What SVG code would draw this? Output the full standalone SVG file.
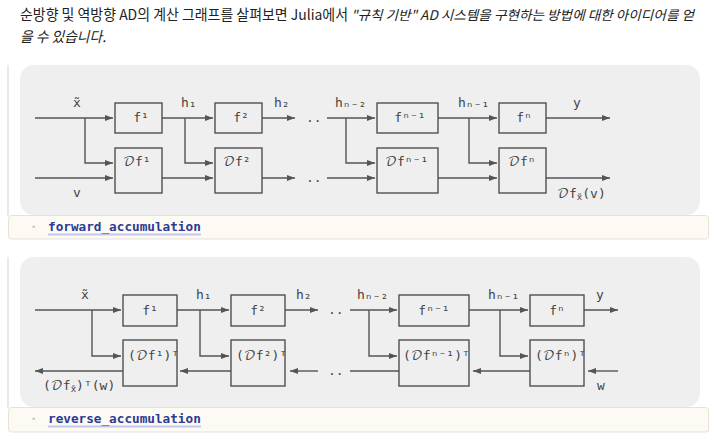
<svg xmlns="http://www.w3.org/2000/svg" width="717" height="440" viewBox="0 0 717 440">
<defs>
<style>
.hdr{font-family:"Noto Sans CJK KR","Noto Sans",sans-serif;font-size:14.4px;fill:#222;}
.it{font-style:italic;}
.sm{font-size:13.2px;}
.panel{fill:#efefef;}
.foot{fill:#fdfaf3;stroke:#e6e2d6;stroke-width:1;}
.cell{stroke:#e2e2e2;stroke-width:1.5;fill:none;}
.lbl{font-family:"DejaVu Sans Mono","DejaVu Math TeX Gyre","DejaVu Sans",monospace;font-size:13px;fill:#444;}
.box{fill:none;stroke:#505050;stroke-width:1.4;}
.ln{fill:none;stroke:#555;stroke-width:1.4;}
.arr{marker-end:url(#ah);}
.fn{font-family:"DejaVu Sans Mono",monospace;font-size:12.7px;font-weight:bold;fill:#2c3a94;}
.ul{stroke:#c3c7ee;stroke-width:2.2;}
.bul{font-family:"DejaVu Sans",sans-serif;font-size:9px;fill:#c8c8c8;}
.sub{font-size:9px;}
</style>
<marker id="ah" markerUnits="userSpaceOnUse" markerWidth="9" markerHeight="7" refX="8" refY="3" orient="auto">
<path d="M0,0 L8,3 L0,6 z" fill="#555"/>
</marker>
</defs>

<g id="header">
<text class="hdr" x="20" y="20" textLength="328" lengthAdjust="spacingAndGlyphs">순방향 및 역방향 AD의 계산 그래프를 살펴보면 Julia에서</text>
<text class="hdr it sm" x="351" y="20" textLength="343" lengthAdjust="spacingAndGlyphs">"규칙 기반" AD 시스템을 구현하는 방법에 대한 아이디어를 얻</text>
<text class="hdr it" x="20" y="42" textLength="86" lengthAdjust="spacingAndGlyphs">을 수 있습니다.</text>
</g>

<!-- ===== Forward accumulation ===== -->
<g id="forward-cell">
<line class="cell" x1="8" y1="65" x2="8" y2="216"/>
<rect class="panel" x="20" y="65" width="680" height="150" rx="14"/>
<rect class="foot" x="8.5" y="215.5" width="700" height="23.5" rx="3"/>
<text class="bul" x="31" y="230">•</text>
<text class="fn" x="48" y="230.5">forward_accumulation</text>
<line class="ul" x1="48" y1="234.5" x2="201" y2="234.5"/>
</g>

<g id="fwd-connectors">
<path class="ln arr" d="M35,118 H113"/>
<path class="ln arr" d="M85,118 V163 H113"/>
<path class="ln arr" d="M35,178 H113"/>
<path class="ln arr" d="M162,118 H213"/>
<path class="ln arr" d="M185,118 V163 H213"/>
<path class="ln arr" d="M162,178 H213"/>
<path class="ln arr" d="M262,118 H295"/>
<path class="ln arr" d="M262,178 H295"/>
<path class="ln arr" d="M327,118 H375"/>
<path class="ln arr" d="M346,118 V163 H375"/>
<path class="ln arr" d="M327,178 H375"/>
<path class="ln arr" d="M438,118 H497"/>
<path class="ln arr" d="M469,118 V163 H497"/>
<path class="ln arr" d="M438,178 H497"/>
<path class="ln arr" d="M546,118 H610"/>
<path class="ln arr" d="M546,178 H610"/>
</g>

<g id="fwd-labels">
<text class="lbl" x="77" y="107" text-anchor="middle">x̃</text>
<text class="lbl" x="77" y="197" text-anchor="middle">v</text>
<text class="lbl" x="181" y="107">h₁</text>
<text class="lbl" x="274" y="107">h₂</text>
<text class="lbl" x="306" y="122">..</text>
<text class="lbl" x="306" y="182">..</text>
<text class="lbl" x="335" y="107">hₙ₋₂</text>
<text class="lbl" x="458" y="107">hₙ₋₁</text>
<text class="lbl" x="573" y="107">y</text>
<text class="lbl" x="557" y="198">𝒟f<tspan class="sub" dy="2">x̃</tspan><tspan dy="-2">(v)</tspan></text>
</g>

<g id="f1"><rect class="box" x="115" y="103" width="47" height="30"/><text class="lbl" x="141" y="122" text-anchor="middle">f¹</text></g>
<g id="Df1"><rect class="box" x="115" y="148" width="47" height="45"/><text class="lbl" x="123" y="166">𝒟f¹</text></g>
<g id="f2"><rect class="box" x="215" y="103" width="47" height="30"/><text class="lbl" x="241" y="122" text-anchor="middle">f²</text></g>
<g id="Df2"><rect class="box" x="215" y="148" width="47" height="45"/><text class="lbl" x="223" y="166">𝒟f²</text></g>
<g id="fn1"><rect class="box" x="377" y="103" width="61" height="30"/><text class="lbl" x="410" y="122" text-anchor="middle">fⁿ⁻¹</text></g>
<g id="Dfn1"><rect class="box" x="377" y="148" width="61" height="45"/><text class="lbl" x="385" y="166">𝒟fⁿ⁻¹</text></g>
<g id="fn"><rect class="box" x="499" y="103" width="47" height="30"/><text class="lbl" x="524" y="122" text-anchor="middle">fⁿ</text></g>
<g id="Dfn"><rect class="box" x="499" y="148" width="47" height="45"/><text class="lbl" x="508" y="166">𝒟fⁿ</text></g>

<!-- ===== Reverse accumulation ===== -->
<g id="reverse-cell">
<line class="cell" x1="8" y1="257" x2="8" y2="408"/>
<rect class="panel" x="20" y="257" width="680" height="150" rx="14"/>
<rect class="foot" x="8.5" y="407.5" width="700" height="24.5" rx="3"/>
<text class="bul" x="31" y="422">•</text>
<text class="fn" x="48" y="422.5">reverse_accumulation</text>
<line class="ul" x1="48" y1="426.5" x2="201" y2="426.5"/>
</g>

<g id="rev-connectors">
<path class="ln arr" d="M35,310 H121"/>
<path class="ln arr" d="M92,310 V356 H121"/>
<path class="ln arr" d="M123,371 H35"/>
<path class="ln arr" d="M177,310 H229"/>
<path class="ln arr" d="M200,310 V356 H229"/>
<path class="ln arr" d="M231,371 H180"/>
<path class="ln arr" d="M285,310 H318"/>
<path class="ln arr" d="M318,371 H290"/>
<path class="ln arr" d="M350,310 H397"/>
<path class="ln arr" d="M369,310 V356 H397"/>
<path class="ln" d="M350,371 H399"/>
<path class="ln arr" d="M469,310 H528"/>
<path class="ln arr" d="M500,310 V356 H528"/>
<path class="ln arr" d="M530,371 H473"/>
<path class="ln arr" d="M584,310 H618"/>
<path class="ln arr" d="M618,371 H588"/>
</g>

<g id="rev-labels">
<text class="lbl" x="85" y="299" text-anchor="middle">x̃</text>
<text class="lbl" x="196" y="299">h₁</text>
<text class="lbl" x="296" y="299">h₂</text>
<text class="lbl" x="328" y="314">..</text>
<text class="lbl" x="328" y="375">..</text>
<text class="lbl" x="357" y="299">hₙ₋₂</text>
<text class="lbl" x="488" y="299">hₙ₋₁</text>
<text class="lbl" x="596" y="299">y</text>
<text class="lbl" x="597" y="390">w</text>
<text class="lbl" x="43" y="390">(𝒟f<tspan class="sub" dy="2">x̃</tspan><tspan dy="-2">)ᵀ(w)</tspan></text>
</g>

<g id="rf1"><rect class="box" x="123" y="295" width="54" height="31"/><text class="lbl" x="150" y="315" text-anchor="middle">f¹</text></g>
<g id="rDf1"><rect class="box" x="123" y="340" width="54" height="46"/><text class="lbl" x="128" y="360">(𝒟f¹)ᵀ</text></g>
<g id="rf2"><rect class="box" x="231" y="295" width="54" height="31"/><text class="lbl" x="258" y="315" text-anchor="middle">f²</text></g>
<g id="rDf2"><rect class="box" x="231" y="340" width="54" height="46"/><text class="lbl" x="236" y="360">(𝒟f²)ᵀ</text></g>
<g id="rfn1"><rect class="box" x="399" y="295" width="70" height="31"/><text class="lbl" x="434" y="315" text-anchor="middle">fⁿ⁻¹</text></g>
<g id="rDfn1"><rect class="box" x="399" y="340" width="70" height="46"/><text class="lbl" x="403" y="360">(𝒟fⁿ⁻¹)ᵀ</text></g>
<g id="rfn"><rect class="box" x="530" y="295" width="54" height="31"/><text class="lbl" x="557" y="315" text-anchor="middle">fⁿ</text></g>
<g id="rDfn"><rect class="box" x="530" y="340" width="54" height="46"/><text class="lbl" x="535" y="360">(𝒟fⁿ)ᵀ</text></g>
</svg>
